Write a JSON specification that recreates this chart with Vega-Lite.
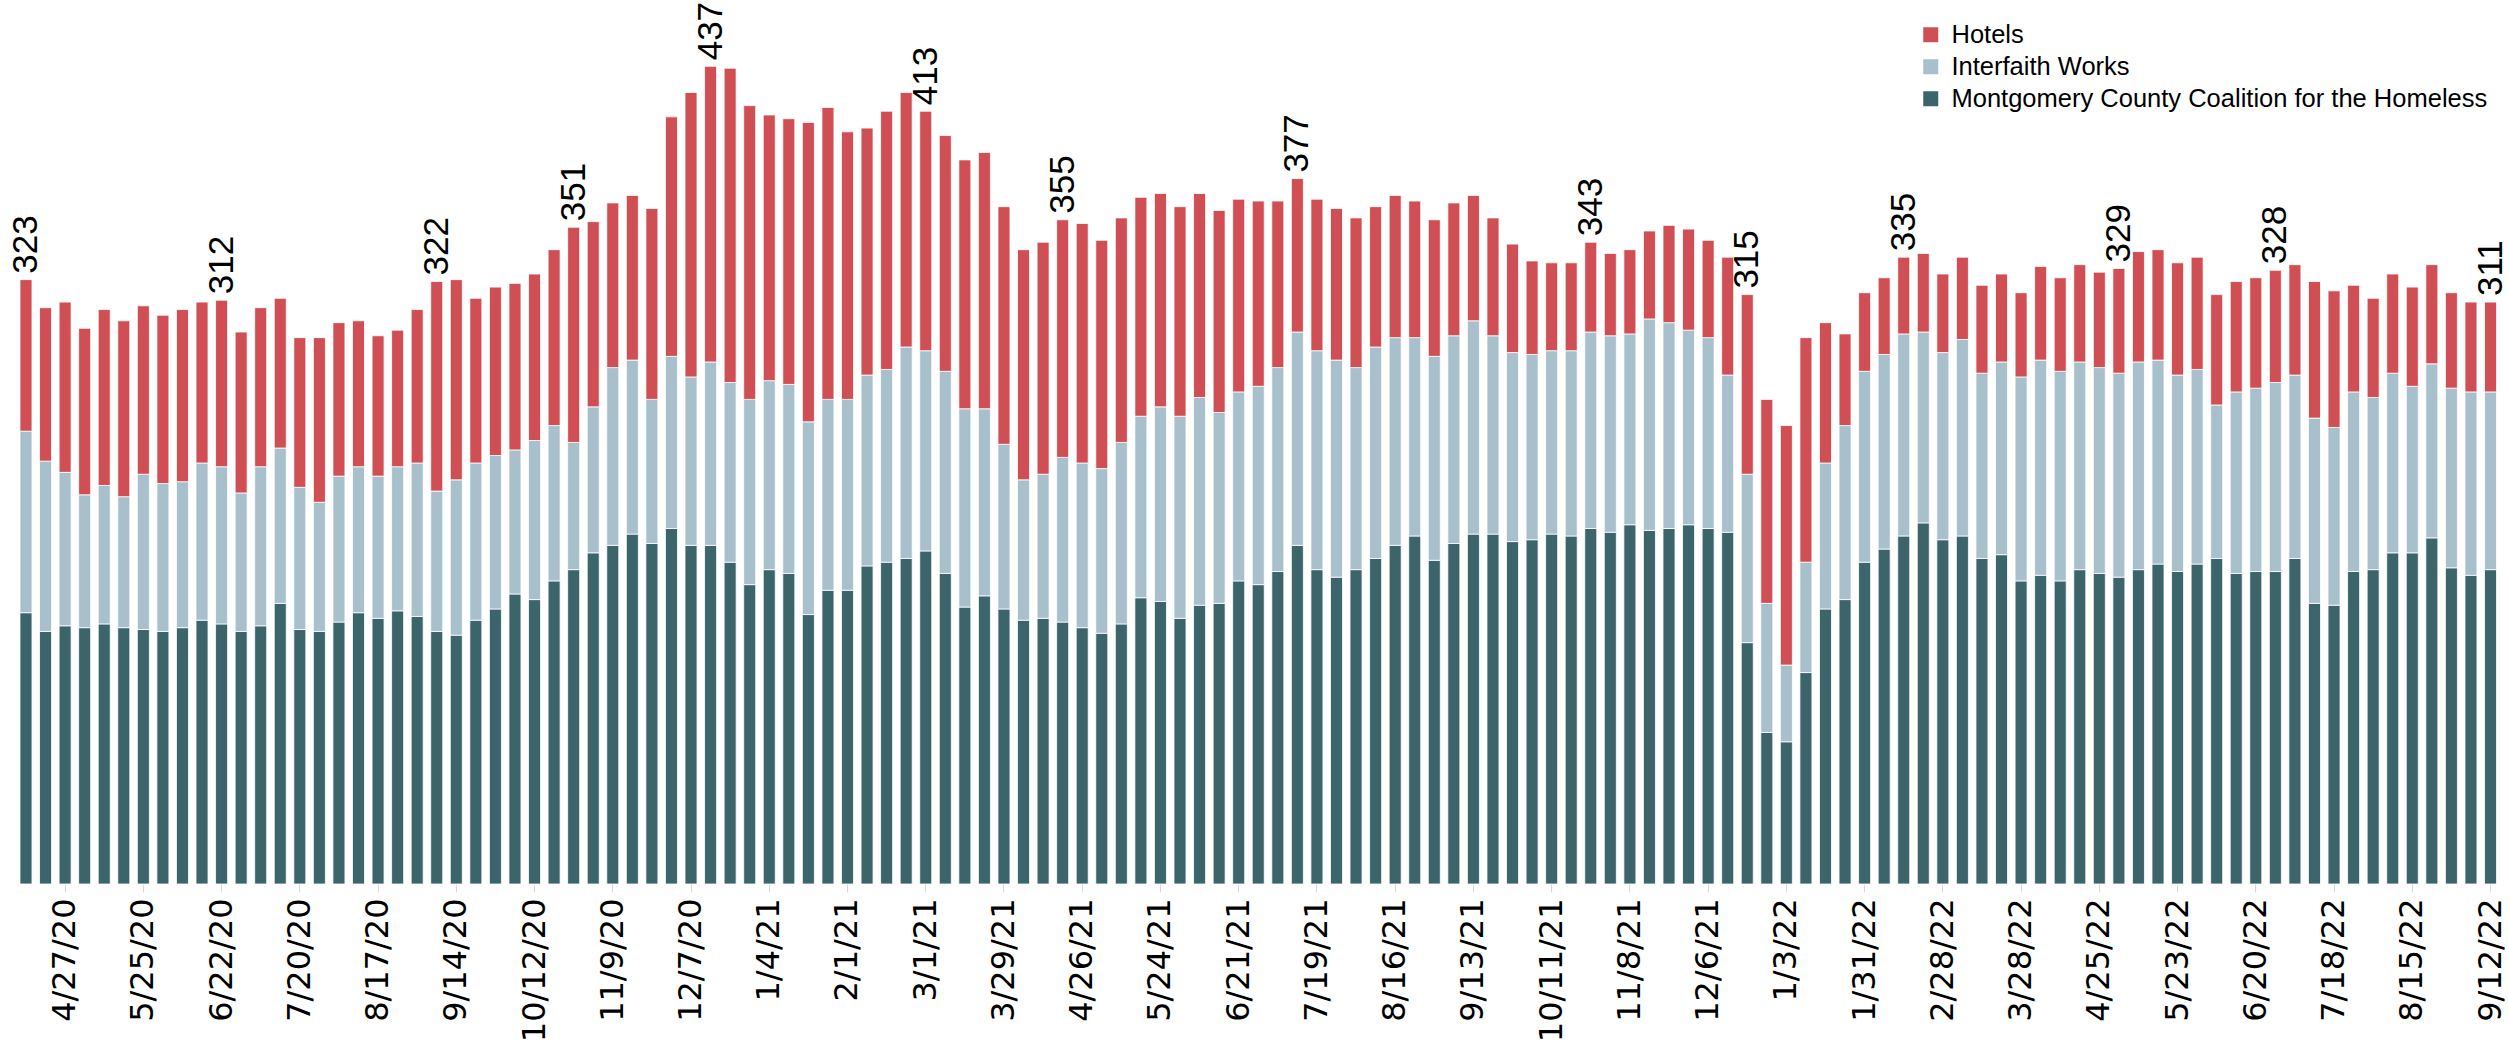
{
  "$schema": "https://vega.github.io/schema/vega-lite/v6.json",
  "width": 2496.5,
  "height": 842,
  "autosize": {"type": "none"},
  "padding": {"left": 10, "top": 42, "right": 2, "bottom": 163},
  "background": "#ffffff",
  "config": {"view": {"stroke": null}},
  "data": {"values": [
    {"week":"4/13/20","MCCH":145,"IW":97,"Hotels":81,"label":323},
    {"week":"4/20/20","MCCH":135,"IW":91,"Hotels":82},
    {"week":"4/27/20","MCCH":138,"IW":82,"Hotels":91},
    {"week":"5/4/20","MCCH":137,"IW":71,"Hotels":89},
    {"week":"5/11/20","MCCH":139,"IW":74,"Hotels":94},
    {"week":"5/18/20","MCCH":137,"IW":70,"Hotels":94},
    {"week":"5/25/20","MCCH":136,"IW":83,"Hotels":90},
    {"week":"6/1/20","MCCH":135,"IW":79,"Hotels":90},
    {"week":"6/8/20","MCCH":137,"IW":78,"Hotels":92},
    {"week":"6/15/20","MCCH":141,"IW":84,"Hotels":86},
    {"week":"6/22/20","MCCH":139,"IW":84,"Hotels":89,"label":312},
    {"week":"6/29/20","MCCH":135,"IW":74,"Hotels":86},
    {"week":"7/6/20","MCCH":138,"IW":85,"Hotels":85},
    {"week":"7/13/20","MCCH":150,"IW":83,"Hotels":80},
    {"week":"7/20/20","MCCH":136,"IW":76,"Hotels":80},
    {"week":"7/27/20","MCCH":135,"IW":69,"Hotels":88},
    {"week":"8/3/20","MCCH":140,"IW":78,"Hotels":82},
    {"week":"8/10/20","MCCH":145,"IW":78,"Hotels":78},
    {"week":"8/17/20","MCCH":142,"IW":76,"Hotels":75},
    {"week":"8/24/20","MCCH":146,"IW":77,"Hotels":73},
    {"week":"8/31/20","MCCH":143,"IW":82,"Hotels":82},
    {"week":"9/7/20","MCCH":135,"IW":75,"Hotels":112,"label":322},
    {"week":"9/14/20","MCCH":133,"IW":83,"Hotels":107},
    {"week":"9/21/20","MCCH":141,"IW":84,"Hotels":88},
    {"week":"9/28/20","MCCH":147,"IW":82,"Hotels":90},
    {"week":"10/5/20","MCCH":155,"IW":77,"Hotels":89},
    {"week":"10/12/20","MCCH":152,"IW":85,"Hotels":89},
    {"week":"10/19/20","MCCH":162,"IW":83,"Hotels":94},
    {"week":"10/26/20","MCCH":168,"IW":68,"Hotels":115,"label":351},
    {"week":"11/2/20","MCCH":177,"IW":78,"Hotels":99},
    {"week":"11/9/20","MCCH":181,"IW":95,"Hotels":88},
    {"week":"11/16/20","MCCH":187,"IW":93,"Hotels":88},
    {"week":"11/23/20","MCCH":182,"IW":77,"Hotels":102},
    {"week":"11/30/20","MCCH":190,"IW":92,"Hotels":128},
    {"week":"12/7/20","MCCH":181,"IW":90,"Hotels":152},
    {"week":"12/14/20","MCCH":181,"IW":98,"Hotels":158,"label":437},
    {"week":"12/21/20","MCCH":172,"IW":96,"Hotels":168},
    {"week":"12/28/20","MCCH":160,"IW":99,"Hotels":157},
    {"week":"1/4/21","MCCH":168,"IW":101,"Hotels":142},
    {"week":"1/11/21","MCCH":166,"IW":101,"Hotels":142},
    {"week":"1/18/21","MCCH":144,"IW":103,"Hotels":160},
    {"week":"1/25/21","MCCH":157,"IW":102,"Hotels":156},
    {"week":"2/1/21","MCCH":157,"IW":102,"Hotels":143},
    {"week":"2/8/21","MCCH":170,"IW":102,"Hotels":132},
    {"week":"2/15/21","MCCH":172,"IW":103,"Hotels":138},
    {"week":"2/22/21","MCCH":174,"IW":113,"Hotels":136},
    {"week":"3/1/21","MCCH":178,"IW":107,"Hotels":128,"label":413},
    {"week":"3/8/21","MCCH":166,"IW":108,"Hotels":126},
    {"week":"3/15/21","MCCH":148,"IW":106,"Hotels":133},
    {"week":"3/22/21","MCCH":154,"IW":100,"Hotels":137},
    {"week":"3/29/21","MCCH":147,"IW":88,"Hotels":127},
    {"week":"4/5/21","MCCH":141,"IW":75,"Hotels":123},
    {"week":"4/12/21","MCCH":142,"IW":77,"Hotels":124},
    {"week":"4/19/21","MCCH":140,"IW":88,"Hotels":127,"label":355},
    {"week":"4/26/21","MCCH":137,"IW":88,"Hotels":128},
    {"week":"5/3/21","MCCH":134,"IW":88,"Hotels":122},
    {"week":"5/10/21","MCCH":139,"IW":97,"Hotels":120},
    {"week":"5/17/21","MCCH":153,"IW":97,"Hotels":117},
    {"week":"5/24/21","MCCH":151,"IW":104,"Hotels":114},
    {"week":"5/31/21","MCCH":142,"IW":108,"Hotels":112},
    {"week":"6/7/21","MCCH":149,"IW":111,"Hotels":109},
    {"week":"6/14/21","MCCH":150,"IW":102,"Hotels":108},
    {"week":"6/21/21","MCCH":162,"IW":101,"Hotels":103},
    {"week":"6/28/21","MCCH":160,"IW":106,"Hotels":99},
    {"week":"7/5/21","MCCH":167,"IW":109,"Hotels":89},
    {"week":"7/12/21","MCCH":181,"IW":114,"Hotels":82,"label":377},
    {"week":"7/19/21","MCCH":168,"IW":117,"Hotels":81},
    {"week":"7/26/21","MCCH":164,"IW":116,"Hotels":81},
    {"week":"8/2/21","MCCH":168,"IW":108,"Hotels":80},
    {"week":"8/9/21","MCCH":174,"IW":113,"Hotels":75},
    {"week":"8/16/21","MCCH":181,"IW":111,"Hotels":76},
    {"week":"8/23/21","MCCH":186,"IW":106,"Hotels":73},
    {"week":"8/30/21","MCCH":173,"IW":109,"Hotels":73},
    {"week":"9/6/21","MCCH":182,"IW":111,"Hotels":71},
    {"week":"9/13/21","MCCH":187,"IW":114,"Hotels":67},
    {"week":"9/20/21","MCCH":187,"IW":106,"Hotels":63},
    {"week":"9/27/21","MCCH":183,"IW":101,"Hotels":58},
    {"week":"10/4/21","MCCH":184,"IW":99,"Hotels":50},
    {"week":"10/11/21","MCCH":187,"IW":98,"Hotels":47},
    {"week":"10/18/21","MCCH":186,"IW":99,"Hotels":47},
    {"week":"10/25/21","MCCH":190,"IW":105,"Hotels":48,"label":343},
    {"week":"11/1/21","MCCH":188,"IW":105,"Hotels":44},
    {"week":"11/8/21","MCCH":192,"IW":102,"Hotels":45},
    {"week":"11/15/21","MCCH":189,"IW":113,"Hotels":47},
    {"week":"11/22/21","MCCH":190,"IW":110,"Hotels":52},
    {"week":"11/29/21","MCCH":192,"IW":104,"Hotels":54},
    {"week":"12/6/21","MCCH":190,"IW":102,"Hotels":52},
    {"week":"12/13/21","MCCH":188,"IW":84,"Hotels":63},
    {"week":"12/20/21","MCCH":129,"IW":90,"Hotels":96,"label":315},
    {"week":"12/27/21","MCCH":81,"IW":69,"Hotels":109},
    {"week":"1/3/22","MCCH":76,"IW":41,"Hotels":128},
    {"week":"1/10/22","MCCH":113,"IW":59,"Hotels":120},
    {"week":"1/17/22","MCCH":147,"IW":78,"Hotels":75},
    {"week":"1/24/22","MCCH":152,"IW":93,"Hotels":49},
    {"week":"1/31/22","MCCH":172,"IW":102,"Hotels":42},
    {"week":"2/7/22","MCCH":179,"IW":104,"Hotels":41},
    {"week":"2/14/22","MCCH":186,"IW":108,"Hotels":41,"label":335},
    {"week":"2/21/22","MCCH":193,"IW":102,"Hotels":42},
    {"week":"2/28/22","MCCH":184,"IW":100,"Hotels":42},
    {"week":"3/7/22","MCCH":186,"IW":105,"Hotels":44},
    {"week":"3/14/22","MCCH":174,"IW":99,"Hotels":47},
    {"week":"3/21/22","MCCH":176,"IW":103,"Hotels":47},
    {"week":"3/28/22","MCCH":162,"IW":109,"Hotels":45},
    {"week":"4/4/22","MCCH":165,"IW":115,"Hotels":50},
    {"week":"4/11/22","MCCH":162,"IW":112,"Hotels":50},
    {"week":"4/18/22","MCCH":168,"IW":111,"Hotels":52},
    {"week":"4/25/22","MCCH":166,"IW":110,"Hotels":51},
    {"week":"5/2/22","MCCH":164,"IW":109,"Hotels":56,"label":329},
    {"week":"5/9/22","MCCH":168,"IW":111,"Hotels":59},
    {"week":"5/16/22","MCCH":171,"IW":109,"Hotels":59},
    {"week":"5/23/22","MCCH":167,"IW":105,"Hotels":60},
    {"week":"5/30/22","MCCH":171,"IW":104,"Hotels":60},
    {"week":"6/6/22","MCCH":174,"IW":82,"Hotels":59},
    {"week":"6/13/22","MCCH":166,"IW":97,"Hotels":59},
    {"week":"6/20/22","MCCH":167,"IW":98,"Hotels":59},
    {"week":"6/27/22","MCCH":167,"IW":101,"Hotels":60,"label":328},
    {"week":"7/4/22","MCCH":174,"IW":98,"Hotels":59},
    {"week":"7/11/22","MCCH":150,"IW":99,"Hotels":73},
    {"week":"7/18/22","MCCH":149,"IW":95,"Hotels":73},
    {"week":"7/25/22","MCCH":167,"IW":96,"Hotels":57},
    {"week":"8/1/22","MCCH":168,"IW":92,"Hotels":53},
    {"week":"8/8/22","MCCH":177,"IW":96,"Hotels":53},
    {"week":"8/15/22","MCCH":177,"IW":89,"Hotels":53},
    {"week":"8/22/22","MCCH":185,"IW":93,"Hotels":53},
    {"week":"8/29/22","MCCH":169,"IW":96,"Hotels":51},
    {"week":"9/5/22","MCCH":165,"IW":98,"Hotels":48},
    {"week":"9/12/22","MCCH":168,"IW":95,"Hotels":48,"label":311}
  ]},
  "encoding": {
    "x": {
      "field": "week",
      "type": "ordinal",
      "sort": null,
      "scale": {"paddingInner": 0.386, "paddingOuter": 0.51},
      "axis": {
        "title": null,
        "labelAngle": -90,
        "values": ["4/27/20","5/25/20","6/22/20","7/20/20","8/17/20","9/14/20","10/12/20","11/9/20","12/7/20","1/4/21","2/1/21","3/1/21","3/29/21","4/26/21","5/24/21","6/21/21","7/19/21","8/16/21","9/13/21","10/11/21","11/8/21","12/6/21","1/3/22","1/31/22","2/28/22","3/28/22","4/25/22","5/23/22","6/20/22","7/18/22","8/15/22","9/12/22"],
        "domain": false,
        "ticks": true,
        "tickColor": "#d9d9d9",
        "tickSize": 8,
        "labelPadding": 6,
        "labelFont": "DejaVu Sans",
        "labelFontSize": 32,
        "labelColor": "#000000",
        "labelOverlap": false,
        "labelBound": false
      }
    }
  },
  "layer": [
    {
      "transform": [{"fold": ["MCCH", "IW", "Hotels"], "as": ["group", "value"]}],
      "mark": {"type": "bar", "stroke": "#ffffff", "strokeWidth": 1, "strokeOpacity": 0.8},
      "encoding": {
        "y": {
          "field": "value",
          "type": "quantitative",
          "stack": "zero",
          "scale": {"domain": [0, 450], "nice": false},
          "axis": null
        },
        "color": {
          "field": "group",
          "type": "nominal",
          "scale": {"domain": ["Hotels", "IW", "MCCH"], "range": ["#cf4f55", "#a8bfcc", "#3b646b"]},
          "legend": {
            "title": null,
            "orient": "none",
            "legendX": 1908,
            "legendY": -20,
            "direction": "vertical",
            "padding": 0,
            "symbolType": "square",
            "symbolSize": 225,
            "symbolStrokeWidth": 0,
            "labelOffset": 8,
            "rowPadding": 5,
            "labelFont": "Liberation Sans",
            "labelFontSize": 25.5,
            "labelColor": "#000000",
            "labelLimit": 0,
            "labelExpr": "datum.label == 'IW' ? 'Interfaith Works' : datum.label == 'MCCH' ? 'Montgomery County Coalition for the Homeless' : datum.label"
          }
        },
        "order": {"field": "group", "sort": "descending"}
      }
    },
    {
      "transform": [{"filter": "isValid(datum.label)"}],
      "mark": {"type": "text", "angle": -90, "align": "left", "baseline": "middle", "dx": 6, "font": "Liberation Sans", "fontSize": 35, "color": "#000000"},
      "encoding": {
        "y": {"field": "label", "type": "quantitative"},
        "text": {"field": "label", "type": "quantitative"}
      }
    }
  ]
}
